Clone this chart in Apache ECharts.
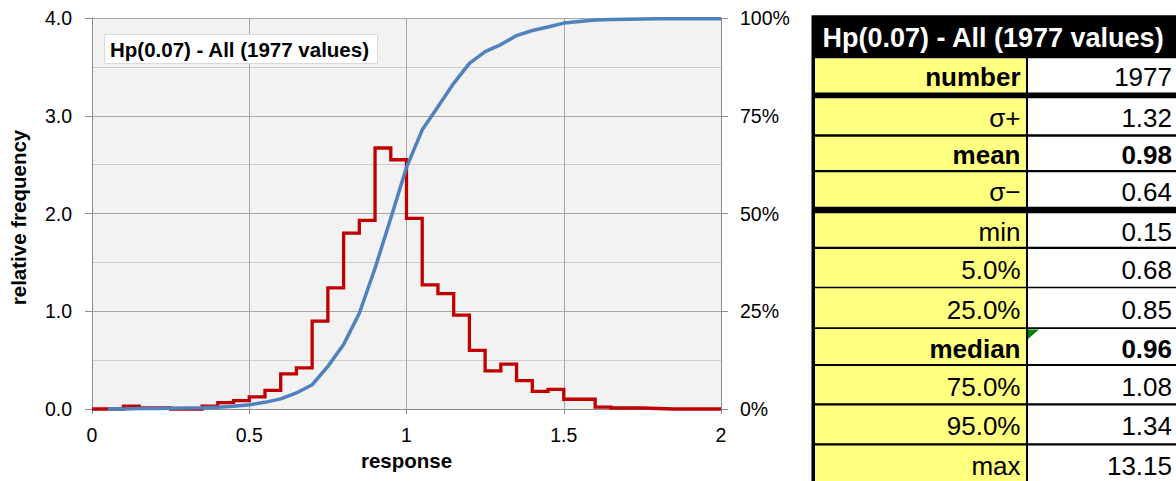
<!DOCTYPE html>
<html>
<head>
<meta charset="utf-8">
<title>Hp(0.07) - All (1977 values)</title>
<script src="https://cdn.jsdelivr.net/npm/echarts@6/dist/echarts.min.js"></script>
<style>
  html, body { margin: 0; padding: 0; background: #fff; }
  #chart { width: 1176px; height: 481px; }
</style>
</head>
<body>
<div id="chart"></div>
<script>
// Histogram of responses: left edge of each 0.05-wide bin and its relative frequency
const binStart = [0.00, 0.05, 0.10, 0.15, 0.20, 0.25, 0.30, 0.35, 0.40, 0.45,
                  0.50, 0.55, 0.60, 0.65, 0.70, 0.75, 0.80, 0.85, 0.90, 0.95,
                  1.00, 1.05, 1.10, 1.15, 1.20, 1.25, 1.30, 1.35, 1.40, 1.45,
                  1.50, 1.55, 1.60, 1.65, 1.70, 1.75, 1.80, 1.85, 1.90, 1.95];
const histEnd = 2.0;
const relFreq = [0, 0, 0.03, 0.01, 0.01, 0, 0, 0.03, 0.065, 0.085,
                 0.125, 0.19, 0.36, 0.42, 0.90, 1.24, 1.80, 1.93, 2.67, 2.55,
                 1.95, 1.27, 1.18, 0.96, 0.60, 0.39, 0.46, 0.29, 0.18, 0.20,
                 0.10, 0.10, 0.02, 0.01, 0.01, 0.005, 0, 0, 0, 0];

// Cumulative distribution (percent) at each bin's upper edge
const cdfX = [0.05, 0.10, 0.15, 0.20, 0.25, 0.30, 0.35, 0.40, 0.45, 0.50,
              0.55, 0.60, 0.65, 0.70, 0.75, 0.80, 0.85, 0.90, 0.95, 1.00,
              1.05, 1.10, 1.15, 1.20, 1.25, 1.30, 1.35, 1.40, 1.45, 1.50,
              1.55, 1.60, 1.65, 1.70, 1.75, 1.80, 1.85, 1.90, 1.95, 2.00];
const cdfPct = [0, 0, 0.1, 0.15, 0.2, 0.25, 0.3, 0.45, 0.7, 1.1,
                1.7, 2.6, 4.1, 6.2, 10.9, 16.5, 24.5, 36.0, 48.8, 61.8,
                71.4, 77.3, 83.3, 88.4, 91.4, 93.2, 95.5, 96.8, 97.7, 98.7,
                99.1, 99.5, 99.6, 99.7, 99.75, 99.8, 99.8, 99.8, 99.8, 99.8];

// Summary statistics table
const chartTitle = 'Hp(0.07) - All (1977 values)';
const statLabels = ['number', 'σ+', 'mean', 'σ−', 'min', '5.0%', '25.0%', 'median', '75.0%', '95.0%', 'max'];
const statValues = ['1977', '1.32', '0.98', '0.64', '0.15', '0.68', '0.85', '0.96', '1.08', '1.34', '13.15'];
const labelBold = [true, false, true, false, false, false, false, true, false, false, false];
const valueBold = [false, false, true, false, false, false, false, true, false, false, false];
const flaggedRow = 'median';

const FONT = '"Liberation Sans", Arial, Helvetica, sans-serif';

// ---- table layout (pixels) ----
const tbl = {
  left: 811.5, top: 15.3, headerBottom: 58.3,
  labelX0: 815, labelX1: 1026, valueX0: 1028, valueX1: 1190,
  rowHeights: [34.2, 36, 33.3, 34.4, 33.4, 37.7, 39, 35, 37.3, 37.8, 36],
  gapAfter:   [5.8, 2.4, 2.3, 6.6, 2.3, 1.6, 1.7, 2, 2.2, 2.2, 0],
  yellow: '#ffff80'
};

function buildTable() {
  const els = [];
  let y = tbl.headerBottom;
  const totalH = tbl.rowHeights.reduce((a, b) => a + b, 0) + tbl.gapAfter.reduce((a, b) => a + b, 0);
  els.push({ type: 'rect', shape: { x: tbl.left, y: tbl.top, width: tbl.valueX1 - tbl.left, height: tbl.headerBottom - tbl.top + totalH + 10 }, style: { fill: '#000' } });
  els.push({ type: 'text', x: 822.5, y: (tbl.top + tbl.headerBottom) / 2 + 1,
    style: { text: chartTitle, fill: '#fff', fontFamily: FONT, fontSize: 27, fontWeight: 'bold', align: 'left', verticalAlign: 'middle' } });
  statLabels.forEach((lab, i) => {
    const h = tbl.rowHeights[i];
    const last = i === statLabels.length - 1;
    const fillH = last ? h + 8 : h;
    els.push({ type: 'rect', shape: { x: tbl.labelX0, y: y, width: tbl.labelX1 - tbl.labelX0, height: fillH }, style: { fill: tbl.yellow } });
    els.push({ type: 'rect', shape: { x: tbl.valueX0, y: y, width: tbl.valueX1 - tbl.valueX0, height: fillH }, style: { fill: '#fff' } });
    const cy = y + h / 2 + 2;
    els.push({ type: 'text', x: 1020.5, y: cy,
      style: { text: lab, fill: '#000', fontFamily: FONT, fontSize: 26, fontWeight: labelBold[i] ? 'bold' : 'normal', align: 'right', verticalAlign: 'middle' } });
    els.push({ type: 'text', x: 1172, y: cy,
      style: { text: statValues[i], fill: '#000', fontFamily: FONT, fontSize: 26, fontWeight: valueBold[i] ? 'bold' : 'normal', align: 'right', verticalAlign: 'middle' } });
    if (lab === flaggedRow) {
      els.push({ type: 'polygon', shape: { points: [[tbl.valueX0, y + 0.5], [tbl.valueX0 + 11, y + 0.5], [tbl.valueX0, y + 10]] }, style: { fill: '#008000' } });
    }
    y += h + tbl.gapAfter[i];
  });
  return els;
}

const histData = binStart.map((x, i) => [x, relFreq[i]]).concat([[histEnd, relFreq[relFreq.length - 1]]]);
const cdfData = cdfX.map((x, i) => [x, cdfPct[i]]);

const AXIS = '#8c8c8c', MAJOR = '#a6a6a6', MINOR = '#cdcdcd';

const chart = echarts.init(document.getElementById('chart'), null, { renderer: 'svg', width: 1176, height: 481 });
chart.setOption({
  animation: false,
  backgroundColor: '#fff',
  textStyle: { fontFamily: FONT },
  title: {
    text: chartTitle, left: 104, top: 34,
    backgroundColor: '#fff', borderColor: '#d9d9d9', borderWidth: 1,
    padding: [3, 8, 3, 6],
    textStyle: { fontFamily: FONT, fontSize: 20.5, fontWeight: 'bold', color: '#000', lineHeight: 24 }
  },
  grid: { left: 92, right: 455, top: 18, bottom: 72, show: true, backgroundColor: '#f2f2f2', borderWidth: 0 },
  xAxis: {
    type: 'value', min: 0, max: 2, interval: 0.5,
    name: 'response', nameLocation: 'middle', nameGap: 36,
    nameTextStyle: { fontFamily: FONT, fontSize: 20.5, fontWeight: 'bold', color: '#000' },
    axisLine: { show: true, onZero: false, lineStyle: { color: AXIS, width: 1 } },
    axisTick: { show: true, length: 5, lineStyle: { color: AXIS } },
    axisLabel: { fontFamily: FONT, fontSize: 19.5, color: '#000', margin: 16 },
    splitLine: { show: true, lineStyle: { color: MAJOR, width: 1 } }
  },
  yAxis: [
    {
      type: 'value', min: 0, max: 4, interval: 1, position: 'left',
      name: 'relative frequency', nameLocation: 'middle', nameGap: 63,
      nameTextStyle: { fontFamily: FONT, fontSize: 20.5, fontWeight: 'bold', color: '#000', padding: [0, 8, 0, 0] },
      axisLine: { show: true, lineStyle: { color: AXIS, width: 1 } },
      axisTick: { show: true, length: 7, lineStyle: { color: AXIS } },
      axisLabel: { fontFamily: FONT, fontSize: 19.5, color: '#000', margin: 20, formatter: v => v.toFixed(1) },
      splitLine: { show: true, lineStyle: { color: MAJOR, width: 1 } },
      minorTick: { show: false, splitNumber: 2 },
      minorSplitLine: { show: true, lineStyle: { color: MINOR, width: 1 } }
    },
    {
      type: 'value', min: 0, max: 100, interval: 25, position: 'right',
      axisLine: { show: true, lineStyle: { color: AXIS, width: 1 } },
      axisTick: { show: true, length: 7, lineStyle: { color: AXIS } },
      axisLabel: { fontFamily: FONT, fontSize: 19.5, color: '#000', margin: 19, formatter: '{value}%' },
      splitLine: { show: false }
    }
  ],
  series: [
    {
      name: 'relative frequency', type: 'line', step: 'end', yAxisIndex: 0,
      data: histData, symbol: 'none', clip: false, z: 2,
      lineStyle: { color: '#c00000', width: 3.3, join: 'miter' }
    },
    {
      name: 'cumulative', type: 'line', yAxisIndex: 1,
      data: cdfData, symbol: 'none', clip: false, z: 3,
      lineStyle: { color: '#4f81bd', width: 3.5 }
    }
  ],
  graphic: buildTable()
});
</script>
</body>
</html>
